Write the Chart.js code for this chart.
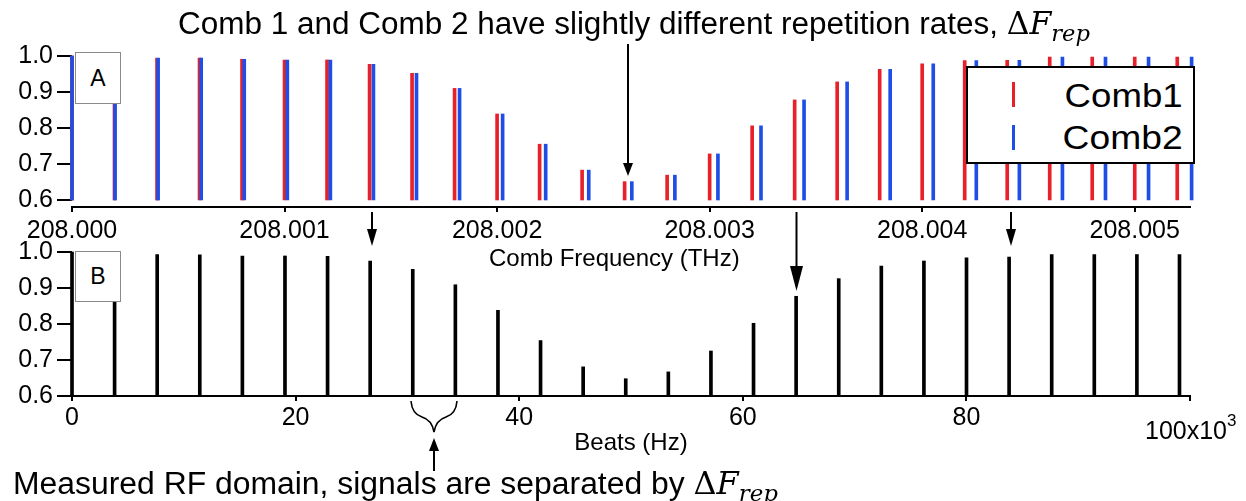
<!DOCTYPE html>
<html>
<head>
<meta charset="utf-8">
<script src="https://cdn.jsdelivr.net/npm/chart.js@4.4.1/dist/chart.umd.min.js"></script>
<style>
html,body{margin:0;padding:0;background:#fff;}
#wrap{position:relative;width:1246px;height:501px;overflow:hidden;font-family:"Liberation Sans",Arial,sans-serif;color:#000;}
canvas{position:absolute;left:0;}
#cTop{top:0;}
#cBot{top:200px;}
.ov{position:absolute;white-space:nowrap;line-height:1;}
.math{font-family:"DejaVu Serif",serif;}
.math i{font-style:italic;}
.math sub{font-size:0.72em;vertical-align:-0.3em;line-height:0;}
.panel{position:absolute;background:#fff;border:1px solid #8a8a8a;display:flex;align-items:center;justify-content:center;font-size:23px;line-height:1;}
#legend{position:absolute;left:966px;top:66px;width:225px;height:94px;background:#fff;border:2px solid #000;}
.lmark{position:absolute;width:3px;height:25px;}
svg{position:absolute;left:0;top:0;}
</style>
</head>
<body>
<div id="wrap">
  <canvas id="cTop" width="1246" height="274"></canvas>
  <canvas id="cBot" width="1246" height="258"></canvas>

  <svg width="1246" height="501" viewBox="0 0 1246 501">
    <g stroke="#000" stroke-width="2">
      <line x1="628" y1="44" x2="628" y2="166"/>
      <line x1="372" y1="212" x2="372" y2="232"/>
      <line x1="796.5" y1="212" x2="796.5" y2="270"/>
      <line x1="1011" y1="212" x2="1011" y2="232"/>
      <line x1="434" y1="448" x2="434" y2="471"/>
    </g>
    <g fill="#000">
      <polygon points="623,163 633,163 628,176"/>
      <polygon points="367,229 377,229 372,246"/>
      <polygon points="790,266 803,266 796.5,291"/>
      <polygon points="1006,229 1016,229 1011,246"/>
      <polygon points="429,451 439,451 434,438"/>
    </g>
    <path d="M411,401 Q412,414 422,417 Q432,420 434,432 Q436,420 446,417 Q456,414 457,401" fill="none" stroke="#000" stroke-width="1.6"/>
  </svg>

  <div class="panel" style="left:75px;top:52px;width:44px;height:50px;">A</div>
  <div class="panel" style="left:75px;top:251px;width:44px;height:49px;">B</div>

  <div id="legend">
    <div class="lmark" style="left:44px;top:14px;background:#e8202a;"></div>
    <div class="lmark" style="left:44px;top:57px;background:#1f4ee6;"></div>
  </div>
  <div class="ov" id="lg1" style="right:63px;top:78px;font-size:34px;">Comb1</div>
  <div class="ov" id="lg2" style="right:63px;top:120px;font-size:34px;">Comb2</div>

  <div class="ov" id="title" style="left:178px;top:8px;font-size:31px;">Comb 1 and Comb 2 have slightly different repetition rates, <span class="math">&Delta;<i>F</i><sub><i>rep</i></sub></span></div>
  <div class="ov" id="foot" style="left:13px;top:468px;font-size:31px;">Measured RF domain, signals are separated by <span class="math">&Delta;<i>F</i><sub><i>rep</i></sub></span></div>

  <div class="ov" style="left:1145px;top:418px;font-size:25px;">100x10<span style="font-size:17px;position:relative;top:-13px;">3</span></div>
</div>

<script>
// ---- data ----
// Comb 1 teeth (THz)
const comb1Freq = [208.0000, 208.0002, 208.0004, 208.0006, 208.0008, 208.0010, 208.0012, 208.0014, 208.0016,
  208.0018, 208.0020, 208.0022, 208.0024, 208.0026, 208.0028, 208.0030, 208.0032, 208.0034, 208.0036,
  208.0038, 208.0040, 208.0042, 208.0044, 208.0046, 208.0048, 208.0050, 208.0052];
// Comb 2 teeth (THz), slightly larger repetition rate
const comb2Freq = [208.0000000, 208.0002026, 208.0004052, 208.0006078, 208.0008104, 208.0010130, 208.0012156,
  208.0014182, 208.0016208, 208.0018234, 208.0020260, 208.0022286, 208.0024312, 208.0026338, 208.0028364,
  208.0030390, 208.0032416, 208.0034442, 208.0036468, 208.0038494, 208.0040520, 208.0042546, 208.0044572,
  208.0046598, 208.0048624, 208.0050650, 208.0052676];
// tooth amplitudes (both combs)
const combAmp = [1.000, 0.997, 0.994, 0.994, 0.991, 0.989, 0.989, 0.977, 0.952, 0.910, 0.839, 0.755, 0.683,
  0.651, 0.669, 0.728, 0.806, 0.878, 0.928, 0.963, 0.978, 0.987, 0.988, 0.997, 0.997, 0.997, 0.997];
// RF beats (Hz)
const beatFreq = [0, 3810, 7620, 11430, 15240, 19050, 22860, 26670, 30480, 34290, 38100, 41910, 45720, 49530,
  53340, 57150, 60960, 64770, 68580, 72390, 76200, 80010, 83820, 87630, 91440, 95250, 99060];
const beatAmp = [1.000, 0.997, 0.993, 0.992, 0.989, 0.989, 0.988, 0.975, 0.952, 0.909, 0.838, 0.754, 0.681,
  0.648, 0.667, 0.725, 0.802, 0.877, 0.926, 0.961, 0.975, 0.984, 0.986, 0.993, 0.993, 0.993, 0.993];
// tick labels
const yTicks = [0.6, 0.7, 0.8, 0.9, 1.0];
const combTicks = [208.000, 208.001, 208.002, 208.003, 208.004, 208.005];
const beatTicks = [0, 20000, 40000, 60000, 80000, 100000];

const BASE = 0.6;
const RED = '#e8202a', BLUE = '#1f4ee6', BLACK = '#000';
const FONT = '"Liberation Sans", Arial, sans-serif';
Chart.defaults.font.family = FONT;
Chart.defaults.color = '#000';

function bars(xs, ys) { return xs.map((x, i) => ({x: x, y: [BASE, ys[i]]})); }

const yScale = (min) => ({
  type: 'linear', min: min, max: 1.0,
  afterFit(s) { s.width = 72; },
  afterBuildTicks(s) { s.ticks = yTicks.map(v => ({value: v})); },
  ticks: {callback: v => Number(v).toFixed(1), font: {size: 25}, color: '#000', padding: 4},
  grid: {drawOnChartArea: false, drawTicks: true, offset: false, tickLength: 15, color: '#000', lineWidth: 2},
  border: {display: false}
});

const common = {
  responsive: false, animation: false, devicePixelRatio: 1,
  plugins: {legend: {display: false}, tooltip: {enabled: false}},
  events: []
};

new Chart(document.getElementById('cTop'), {
  type: 'bar',
  data: {datasets: [
    {label: 'Comb2', data: bars(comb2Freq, combAmp), backgroundColor: BLUE, order: 0,
     barThickness: 3, grouped: false, clip: false},
    {label: 'Comb1', data: bars(comb1Freq, combAmp), backgroundColor: RED, order: 1,
     barThickness: 3, grouped: false, clip: false}
  ]},
  options: Object.assign({}, common, {
    layout: {padding: {left: 0, right: 56, top: 56, bottom: 0}},
    scales: {
      x: {type: 'linear', offset: false, min: 208.000, max: 208.00526, position: 'bottom',
        afterFit(s) { s.height = 67; },
        afterBuildTicks(s) { s.ticks = combTicks.map(v => ({value: v})); },
        ticks: {callback: v => Number(v).toFixed(3), font: {size: 25}, color: '#000', padding: 4,
                maxRotation: 0, autoSkip: false},
        grid: {drawOnChartArea: false, drawTicks: true, offset: false, tickLength: 5, color: '#000', lineWidth: 2},
        border: {display: true, color: '#000', width: 2},
        title: {display: true, text: 'Comb Frequency (THz)     ', font: {size: 24}, color: '#000', padding: 0}
      },
      y: yScale(0.58056)
    }
  })
});

new Chart(document.getElementById('cBot'), {
  type: 'bar',
  data: {datasets: [
    {label: 'Beats', data: bars(beatFreq, beatAmp), backgroundColor: BLACK,
     barThickness: 3, grouped: false, clip: false}
  ]},
  options: Object.assign({}, common, {
    layout: {padding: {left: 0, right: 56, top: 52, bottom: 0}},
    scales: {
      x: {type: 'linear', offset: false, min: 0, max: 100000, position: 'bottom',
        afterFit(s) { s.height = 62; },
        afterBuildTicks(s) { s.ticks = beatTicks.map(v => ({value: v})); },
        ticks: {callback: v => (v >= 100000 ? '' : String(v / 1000)), font: {size: 25}, color: '#000',
                padding: 2, maxRotation: 0, autoSkip: false},
        grid: {drawOnChartArea: false, drawTicks: true, offset: false, tickLength: 5, color: '#000', lineWidth: 2},
        border: {display: true, color: '#000', width: 2},
        title: {display: true, text: 'Beats (Hz)', font: {size: 24}, color: '#000', padding: 0}
      },
      y: yScale(0.6)
    }
  })
});

// stretch overlay text horizontally to the widths measured on the reference
function fitW(id, w, origin) {
  const el = document.getElementById(id);
  const r = el.getBoundingClientRect().width;
  el.style.transformOrigin = origin;
  el.style.transform = 'scaleX(' + (w / r) + ')';
}
fitW('title', 912, '0 50%');
fitW('foot', 765, '0 50%');
fitW('lg1', 118, '100% 50%');
fitW('lg2', 120, '100% 50%');
</script>
</body>
</html>
